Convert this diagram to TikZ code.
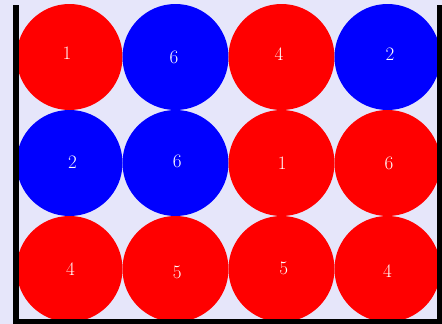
\documentclass[tikz,border=0pt]{standalone}
\usepackage{tikz}
\definecolor{jarbg}{HTML}{E6E6FA}
\begin{document}
\begin{tikzpicture}[x=1pt, y=-1pt,
    ball/.style={circle, minimum size=106pt, inner sep=0pt},
    every node/.style={font=\fontsize{19}{22}\selectfont, text=white}]
    \useasboundingbox (0,0) rectangle (442,324);
    \fill[jarbg] (0,0) rectangle (442,324);
    % balls: column/row/colour/number/label shift
    \foreach \c/\r/\col/\num/\dx/\dy in {
        1/1/red/1/-2.5/-4, 2/1/blue/6/-1.5/0, 3/1/red/4/-2.5/-3, 4/1/blue/2/2.5/-3,
        1/2/blue/2/3/-0.7, 2/2/blue/6/1.8/-2, 3/2/red/1/0.8/0.7, 4/2/red/6/1.5/0.7,
        1/3/red/4/1/0.3, 2/3/red/5/1.8/3, 3/3/red/5/2.2/-0.3, 4/3/red/4/0/1.7}{
        \pgfmathsetmacro{\cx}{69.5+106*(\c-1)}
        \pgfmathsetmacro{\cy}{57+106*(\r-1)}
        \node[ball, fill=\col] (b\c\r) at (\cx,\cy) {};
        \node (n\c\r) at ([shift={(\dx,\dy)}]b\c\r.center) {\num};
    }
    % the jar
    \draw[line width=6pt, miter limit=10] (16,5) -- (16,322) -- (440,322) -- (440,5);
\end{tikzpicture}
\end{document}
